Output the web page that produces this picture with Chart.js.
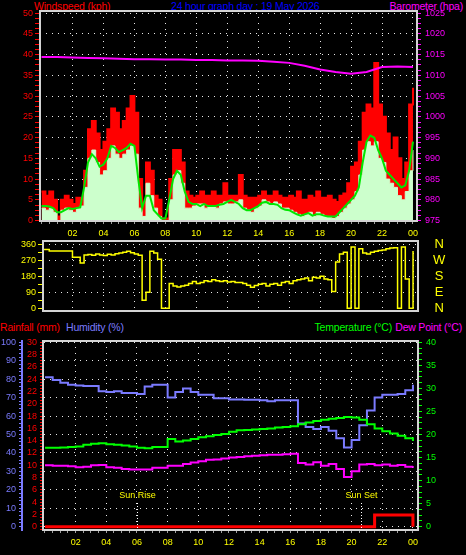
<!DOCTYPE html>
<html lang="en">
<head>
<meta charset="utf-8">
<title>24 hour graph day : 19 May 2026</title>
<script src="https://cdn.jsdelivr.net/npm/chart.js@4.4.1/dist/chart.umd.min.js"></script>
<style>
    html, body { margin: 0; padding: 0; background: #000; }
    body { position: relative; width: 466px; height: 555px; overflow: hidden;
           font-family: 'Liberation Sans', Arial, sans-serif; }
    canvas { position: absolute; left: 0; }
    .rotulo { position: absolute; font-size: 10.5px; line-height: 12px; letter-spacing: -0.2px; white-space: nowrap; }
</style>
</head>
<body>
<div class="rotulo" style="left:34px;top:0;color:#ff0000">Windspeed (kph)</div>
<div class="rotulo" style="left:171px;top:0;color:#0000ff">24 hour graph day : 19 May 2026</div>
<div class="rotulo" style="right:3px;top:0;color:#ff00ff">Barometer (hpa)</div>
<div class="rotulo" style="left:0;top:321px;color:#ff0000">Rainfall (mm)</div>
<div class="rotulo" style="left:66px;top:321px;color:#7b7bff">Humidity (%)</div>
<div class="rotulo" style="right:74px;top:321px;color:#00ff00">Temperature (°C)</div>
<div class="rotulo" style="right:4px;top:321px;color:#ff00ff">Dew Point (°C)</div>

<canvas id="grafico01" width="466" height="240" style="top:0"></canvas>
<canvas id="grafico02" width="466" height="90" style="top:230px"></canvas>
<canvas id="grafico03" width="466" height="225" style="top:330px"></canvas>

<script>
// datos (viento: una muestra cada 15 minutos, 00:00 .. 24:00)
var pasoViento = 0.25;
var rafagaKph = [
    7, 6, 7, 5,   1, 5, 6, 5,   4, 5.5, 5, 12,   22, 24, 21, 17,
    19, 22, 27, 26,   22, 24, 27, 30,   26, 10, 4, 14,   12, 6, 5, 0.5,
    0.5, 10, 17, 17,   14, 7, 6, 5.5,   6, 7, 6, 6,   7, 6, 6, 9,
    6, 6, 6, 11,   6, 5.5, 5.5, 5.5,   6, 7, 6, 6,   7, 6, 5.5, 5.5,
    6, 5.5, 7, 5,   5, 6, 5.5, 7,   5.5, 5.5, 6, 5,   4.5, 6, 6.5, 9,
    13, 14, 19, 26,   28, 27, 38, 28,   25, 21, 17, 20,   15, 10, 14, 28,
    32
];
var vientoKph = [
    3, 2.5, 3, 2,   0, 2.5, 3, 2.5,   2, 3, 3.5, 8,   15, 17, 14, 11,
    12, 15, 18, 16,   15, 16, 17, 18,   16, 3, 1, 9,   6, 3, 1, 0,
    0, 5, 11, 12,   9, 3, 3, 3.5,   4, 4, 3, 3.5,   3.5, 3, 4, 4.5,
    4, 4, 4.5, 5,   3, 2.5, 2, 3,   3.5, 5, 4.5, 4,   4.5, 4, 3, 3,
    2.5, 2, 1.5, 1,   1.5, 2, 1, 2,   1.5, 1, 1, 0.5,   1, 2, 3, 4,
    5, 7, 11, 17,   19, 18, 19, 15,   14, 10, 9, 8,   6, 5, 7, 12,
    17
];
var promedioKph = [
    3.5, 3.5, 3.4, 3,   2, 2, 2.5, 3,   2.8, 3, 3.2, 8,   14, 16, 15, 13,
    13.5, 15, 18, 17.5,   16.5, 17, 17.5, 18.5,   18, 10, 3, 6,   6, 2.5, 1.5, 0.5,
    0.5, 5, 10, 12,   11, 7, 4.5, 4,   4, 3.5, 4, 3.5,   3.5, 3.5, 3.8, 4,
    4.5, 5, 4.5, 4,   3, 2.5, 2.5, 3,   3.5, 4.3, 4.5, 4,   4, 3.8, 3, 2.6,
    2.5, 2, 1.5, 1.2,   1.5, 1.8, 1.2, 1.5,   1.5, 1.2, 1, 1,   1, 2, 3, 4,
    5, 6, 8, 14,   19, 20.5, 20, 17,   15, 12, 11, 10,   9, 8, 8.5, 12,
    19
];
var direccionGrados = [
    330, 330, 322, 322,   322, 322, 322, 322,   287, 287, 255, 300,   302, 298, 305, 300,
    297, 303, 300, 306,   310, 315, 320, 312,   305, 298, 45, 90,   320, 310, 275, 0,
    0, 140, 125, 120,   125, 130, 140, 150,   140, 145, 155, 150,   160, 155, 150, 155,
    148, 150, 145, 145,   140, 130, 118, 128,   135, 140, 125, 135,   140, 130, 145, 150,
    140, 155, 160, 165,   170, 155, 175, 170,   180, 165, 160, 95,   260, 305, 315, 0,
    345, 0, 335, 310,   305, 315, 320, 325,   328, 335, 338, 340,   0, 345, 165, 0,
    322
];
// barometro: una muestra por hora
var barometroHpa = [
    1014.4, 1014.4, 1014.3, 1014.2, 1014.1, 1014.0, 1013.9, 1013.9, 1013.8, 1013.8,
    1013.7, 1013.7, 1013.6, 1013.6, 1013.5, 1013.3, 1013.0, 1012.3, 1011.4, 1010.8,
    1010.4, 1010.8, 1012.0, 1012.1, 1012.0
];
// humedad, temperaturas y lluvia: una muestra cada 30 minutos
var pasoClima = 0.5;
var humedadPct = [
    81, 79.5, 78, 77, 76.5, 76.3, 76.3, 73.5, 73, 73.5, 72.5, 72.5, 72, 76, 77, 77,
    70, 73, 75, 73, 71.5, 71.5, 69.7, 69.7, 69, 69, 68.8, 68.8, 68.5, 68, 68.5, 68.6,
    68.5, 56, 54, 53, 54, 52, 48, 43, 47, 55, 63, 70, 71.5, 71.5, 72, 74, 77
];
var temperaturaC = [
    17.1, 17.1, 17.2, 17.3, 17.4, 17.8, 18, 18.1, 17.9, 17.8, 17.6, 17.4, 17.1, 17, 17.3, 17.3,
    19, 18.5, 18.7, 19, 19.4, 19.6, 19.9, 20.1, 20.6, 20.9, 21.0, 21.1, 21.2, 21.3, 21.5, 21.6,
    21.8, 22.2, 22.6, 22.9, 23.2, 23.4, 23.6, 23.8, 23.7, 23.2, 22.2, 21.3, 20.7, 20.2, 19.7, 19.2,
    18.6
];
var puntoRocioC = [
    13.3, 13.2, 13.2, 13.1, 12.9, 13.0, 13.3, 13.4, 12.9, 12.8, 12.5, 12.4, 12.4, 12.4, 12.8, 12.8,
    13.2, 13.2, 13.6, 13.9, 14.2, 14.5, 14.6, 14.8, 15.0, 15.1, 15.3, 15.4, 15.5, 15.6, 15.6, 15.7,
    15.8, 13.8, 13.5, 14.0, 13.2, 13.6, 12.5, 10.8, 12.0, 13.5, 13.6, 13.3, 13.5, 13.2, 13.4, 13.0,
    13.1
];
var lluviaMm = [
    0, 0, 0, 0, 0, 0, 0, 0, 0, 0, 0, 0, 0, 0, 0, 0,
    0, 0, 0, 0, 0, 0, 0, 0, 0, 0, 0, 0, 0, 0, 0, 0,
    0, 0, 0, 0, 0, 0, 0, 0, 0, 0, 0, 1.9, 1.9, 1.9, 1.9, 1.9,
    0
];
var etiquetasRumbo = { 0: 'N', 90: 'E', 180: 'S', 270: 'W', 360: 'N' };
var salidaSol = 6.03;
var puestaSol = 20.6;

var PUNTOS = '#e8e8e8';
var NADA = 'rgba(0,0,0,0)';
var FUENTE = { family: "'Liberation Sans', Arial, sans-serif", size: 9 };

function serie(valores, paso) {
    return valores.map(function (v, i) { return { x: i * paso, y: v }; });
}

function etiquetaHora(v) {
    if (v <= 0 || v % 2 !== 0) return '';
    var h = v % 24;
    return (h < 10 ? '0' : '') + h;
}

function rejillaHora(c) {
    var v = c.tick ? c.tick.value : -1;
    return (v > 0 && v % 2 === 0) ? PUNTOS : NADA;
}

function rejillaCada(paso, conCero) {
    return function (c) {
        var v = c.tick ? c.tick.value : 0.1;
        if (v === 0 && !conCero) return NADA;
        return Math.abs(v % paso) < 1e-9 ? PUNTOS : NADA;
    };
}

function etiquetaCada(paso) {
    return function (v) { return Math.abs(v % paso) < 1e-9 ? v : ''; };
}

// marco gris alrededor del area de datos
var marco = {
    id: 'marco',
    afterDatasetsDraw: function (chart) {
        var a = chart.chartArea, ctx = chart.ctx;
        ctx.save();
        ctx.strokeStyle = '#d4d4d4';
        ctx.lineWidth = 2;
        ctx.strokeRect(a.left, a.top, a.right - a.left, a.bottom - a.top);
        ctx.restore();
    }
};

// salida y puesta del sol
var sol = {
    id: 'sol',
    afterDatasetsDraw: function (chart) {
        var ctx = chart.ctx, x = chart.scales.x, a = chart.chartArea;
        [[salidaSol, 'Sun Rise'], [puestaSol, 'Sun Set']].forEach(function (s) {
            var px = Math.round(x.getPixelForValue(s[0])) + 0.5;
            ctx.save();
            ctx.strokeStyle = '#ffffff';
            ctx.lineWidth = 1;
            ctx.setLineDash([1, 2]);
            ctx.beginPath();
            ctx.moveTo(px, a.bottom - 27);
            ctx.lineTo(px, a.bottom);
            ctx.stroke();
            ctx.fillStyle = '#ffff00';
            ctx.font = "9px 'Liberation Sans', Arial, sans-serif";
            ctx.textAlign = 'center';
            ctx.textBaseline = 'middle';
            ctx.fillText(s[1], px, a.bottom - 34);
            ctx.restore();
        });
    }
};

var base = {
    responsive: false,
    animation: false,
    events: [],
    plugins: { legend: { display: false }, tooltip: { enabled: false } },
    elements: { point: { radius: 0 }, line: { tension: 0 } }
};

function opciones(extra) {
    return Object.assign({}, base, extra);
}

function grafico01() {
    // viento y barometro
    var ctx = document.getElementById('grafico01').getContext('2d');
    new Chart(ctx, {
        type: 'line',
        data: {
            datasets: [{
                label: 'Barometer (hpa)',
                data: serie(barometroHpa, 1),
                yAxisID: 'yBar',
                borderColor: '#ff00ff',
                borderWidth: 2
            }, {
                label: 'Average',
                data: serie(promedioKph, pasoViento),
                borderColor: '#00e600',
                borderWidth: 2
            }, {
                label: 'Windspeed',
                data: serie(vientoKph, pasoViento),
                borderColor: '#ccffcc',
                backgroundColor: '#ccffcc',
                borderWidth: 1,
                stepped: true,
                fill: 'origin'
            }, {
                label: 'Gust',
                data: serie(rafagaKph, pasoViento),
                borderColor: '#ff0000',
                backgroundColor: '#ff0000',
                borderWidth: 2,
                stepped: true,
                fill: 'origin'
            }]
        },
        options: opciones({
            layout: { padding: { top: 11 } },
            scales: {
                x: {
                    type: 'linear', min: -0.1, max: 24.26,
                    ticks: { stepSize: 0.5, autoSkip: false, maxRotation: 0, includeBounds: false,
                             color: '#ffff00', font: FUENTE, padding: 4, callback: etiquetaHora },
                    grid: { color: rejillaHora, tickColor: '#a0a0a0', tickLength: 3 },
                    border: { display: false, dash: [1, 5] },
                    afterFit: function (s) { s.height = 19; }
                },
                y: {
                    position: 'left', min: -0.1, max: 50.5,
                    ticks: { stepSize: 1.25, autoSkip: false, includeBounds: false,
                             color: '#ff0000', font: FUENTE, padding: 2, callback: etiquetaCada(5) },
                    grid: { color: rejillaCada(5, true), tickColor: '#ff0000', tickLength: 5 },
                    border: { display: false, dash: [1, 5] },
                    afterFit: function (s) { s.width = 40; }
                },
                yBar: {
                    position: 'right', min: 974.9, max: 1025.5,
                    ticks: { stepSize: 1.25, autoSkip: false, includeBounds: false,
                             color: '#ff00ff', font: FUENTE, padding: 4, callback: etiquetaCada(5) },
                    grid: { drawOnChartArea: false, tickColor: '#ff00ff', tickLength: 4 },
                    border: { display: false },
                    afterFit: function (s) { s.width = 49; }
                }
            }
        }),
        plugins: [marco]
    });
}

function grafico02() {
    // direccion del viento
    var ctx = document.getElementById('grafico02').getContext('2d');
    new Chart(ctx, {
        type: 'line',
        data: {
            datasets: [{
                label: 'Direction',
                data: serie(direccionGrados, pasoViento),
                borderColor: '#ffff00',
                borderWidth: 1.5,
                stepped: true
            }]
        },
        options: opciones({
            layout: { padding: { top: 11 } },
            scales: {
                x: {
                    type: 'linear', min: 0.097, max: 24.32,
                    ticks: { display: false, stepSize: 0.5, autoSkip: false, includeBounds: false },
                    grid: { color: rejillaHora, drawTicks: false },
                    border: { display: false, dash: [1, 5] },
                    afterFit: function (s) { s.height = 9; }
                },
                y: {
                    position: 'left', min: -15, max: 378,
                    ticks: { stepSize: 45, autoSkip: false, includeBounds: false,
                             color: '#ffff00', font: FUENTE, padding: 2, callback: etiquetaCada(90) },
                    grid: { color: rejillaCada(90, false), tickColor: '#ffff00', tickLength: 5 },
                    border: { display: false, dash: [1, 5] },
                    afterFit: function (s) { s.width = 43; }
                },
                yRumbo: {
                    position: 'right', min: -15, max: 378,
                    ticks: { stepSize: 90, autoSkip: false, includeBounds: false, crossAlign: 'center',
                             color: '#ffff00', padding: 0,
                             font: { family: "'Liberation Sans', Arial, sans-serif", size: 13 },
                             callback: function (v) { return etiquetasRumbo[v] || ''; } },
                    grid: { drawOnChartArea: false, tickColor: NADA, tickLength: 15 },
                    border: { display: false },
                    afterFit: function (s) { s.width = 48; s.paddingTop = 0; s.paddingBottom = 0; }
                }
            }
        }),
        plugins: [marco]
    });
}

function grafico03() {
    // lluvia, humedad, temperatura y punto de rocio
    var ctx = document.getElementById('grafico03').getContext('2d');
    new Chart(ctx, {
        type: 'line',
        data: {
            datasets: [{
                label: 'Rainfall (mm)',
                data: serie(lluviaMm, pasoClima),
                yAxisID: 'yRain',
                borderColor: '#ff0000',
                borderWidth: 3,
                stepped: true
            }, {
                label: 'Temperature (°C)',
                data: serie(temperaturaC, pasoClima),
                yAxisID: 'yTemp',
                borderColor: '#00ff00',
                borderWidth: 2,
                stepped: true
            }, {
                label: 'Dew Point (°C)',
                data: serie(puntoRocioC, pasoClima),
                yAxisID: 'yTemp',
                borderColor: '#ff00ff',
                borderWidth: 2,
                stepped: true
            }, {
                label: 'Humidity (%)',
                data: serie(humedadPct, pasoClima),
                yAxisID: 'yHum',
                borderColor: '#7b7bff',
                borderWidth: 2,
                stepped: true
            }]
        },
        options: opciones({
            layout: { padding: { top: 11 } },
            scales: {
                x: {
                    type: 'linear', min: -0.13, max: 24.33,
                    ticks: { stepSize: 0.5, autoSkip: false, maxRotation: 0, includeBounds: false,
                             color: '#ffff00', font: FUENTE, padding: 4, callback: etiquetaHora },
                    grid: { color: rejillaHora, tickColor: '#a0a0a0', tickLength: 3 },
                    border: { display: false, dash: [1, 5] },
                    afterFit: function (s) { s.height = 25; }
                },
                yHum: {
                    position: 'left', weight: 1, min: -1.8, max: 100.7,
                    ticks: { stepSize: 2, autoSkip: false, includeBounds: false,
                             color: '#7b7bff', font: FUENTE, padding: 3, callback: etiquetaCada(10) },
                    grid: { color: rejillaCada(10, true), tickColor: '#7b7bff', tickLength: 3 },
                    border: { display: true, color: '#7b7bff', width: 2, dash: [1, 5] },
                    afterFit: function (s) { s.width = 22; }
                },
                yRain: {
                    position: 'left', weight: 0, min: -0.54, max: 30.21,
                    ticks: { stepSize: 0.5, autoSkip: false, includeBounds: false,
                             color: '#ff0000', font: FUENTE, padding: 3, callback: etiquetaCada(2) },
                    grid: { drawOnChartArea: false, tickColor: '#ff0000', tickLength: 3 },
                    border: { display: false },
                    afterFit: function (s) { s.width = 21; }
                },
                yTemp: {
                    position: 'right', min: -0.72, max: 40.28,
                    ticks: { stepSize: 1.25, autoSkip: false, includeBounds: false,
                             color: '#00ff00', font: FUENTE, padding: 4, callback: etiquetaCada(5) },
                    grid: { drawOnChartArea: false, tickColor: '#00ff00', tickLength: 4 },
                    border: { display: false },
                    afterFit: function (s) { s.width = 48; }
                }
            }
        }),
        plugins: [marco, sol]
    });
}

grafico01();
grafico02();
grafico03();
</script>
</body>
</html>
